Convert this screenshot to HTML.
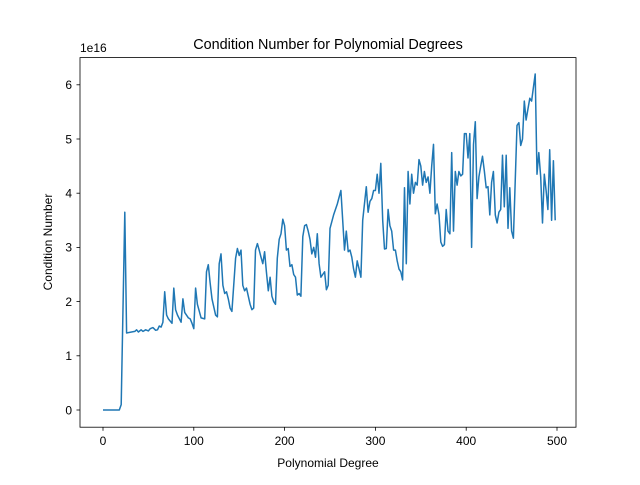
<!DOCTYPE html>
<html><head><meta charset="utf-8"><style>
body{margin:0;background:#fff;}
svg text{font-family:"Liberation Sans","DejaVu Sans",sans-serif;fill:#000;}
</style></head><body>
<svg id="chart" width="640" height="480" viewBox="0 0 640 480" xmlns="http://www.w3.org/2000/svg">
<rect width="640" height="480" fill="#fff"/>
<text x="328" y="49" font-size="14.4" text-anchor="middle">Condition Number for Polynomial Degrees</text>
<text x="328" y="467" font-size="12" text-anchor="middle">Polynomial Degree</text>
<text x="52" y="242" font-size="12" text-anchor="middle" transform="rotate(-90 52 242)">Condition Number</text>
<text x="80" y="52" font-size="12">1e16</text>
<g id="ticks"></g>
<polyline id="line" fill="none" stroke="#1f77b4" stroke-width="1.5" stroke-linejoin="round"/>
<rect x="80" y="57.6" width="496" height="369.6" fill="none" stroke="#000" stroke-width="0.8"/>
</svg>
<script>
const degrees=[0,18,20,24,26,35,37,39,42,44,47,50,52,55,58,60,62,64,66,68,70,72,76,78,80,82,86,88,90,94,96,98,100,102,104,108,112,114,116,118,120,124,126,128,130,132,134,136,138,140,142,146,148,150,152,154,156,158,160,162,164,166,168,170,172,174,176,178,180,182,184,186,188,190,192,194,196,198,200,202,204,206,208,210,212,214,216,218,220,222,224,226,228,230,232,234,236,238,240,242,244,246,248,250,254,258,262,264,266,268,270,272,274,276,278,280,282,284,286,290,292,294,296,298,300,302,304,306,308,310,312,314,316,318,320,322,324,326,328,330,332,334,336,338,340,342,344,346,348,350,352,354,356,358,360,362,364,366,368,370,372,374,376,378,380,382,384,386,388,390,392,394,396,398,400,402,404,406,408,410,412,414,416,418,420,422,424,426,428,430,432,434,436,438,440,442,444,446,448,450,452,456,458,460,462,464,466,468,470,472,476,478,480,482,484,486,488,490,492,494,496,498];
const condValues=[0,0,0.1,3.65,1.42,1.45,1.48,1.44,1.48,1.45,1.48,1.46,1.5,1.52,1.47,1.48,1.55,1.53,1.62,2.18,1.75,1.68,1.6,2.25,1.85,1.75,1.62,2.05,1.8,1.7,1.68,1.6,1.5,2.25,1.95,1.7,1.68,2.55,2.68,2.35,2.05,1.75,1.72,2.7,2.88,2.3,2.15,2.18,2.05,1.88,1.82,2.8,2.98,2.85,2.95,2.3,2.2,2.25,2.1,1.95,1.85,1.88,2.95,3.07,2.95,2.82,2.7,2.92,2.55,2.2,2.45,2.1,2.0,1.95,2.8,3.15,3.25,3.52,3.4,2.95,2.98,2.65,2.68,2.5,2.45,2.12,2.15,2.1,3.2,3.4,3.42,3.3,3.15,2.88,3.0,2.82,3.25,2.7,2.45,2.5,2.55,2.22,2.3,3.35,3.6,3.8,4.05,3.5,2.95,3.3,2.92,2.95,2.82,2.6,2.45,2.75,2.6,2.45,3.5,4.12,3.65,3.85,3.9,4.05,4.05,4.35,4.0,4.55,3.5,2.97,2.98,3.7,3.4,3.3,2.95,2.95,2.75,2.6,2.55,2.4,4.1,2.7,4.4,3.8,4.35,4.0,4.2,4.15,4.62,4.5,4.15,4.4,4.2,4.3,4.0,4.5,4.9,3.62,3.8,3.6,3.1,3.02,3.05,3.7,3.3,3.25,4.75,3.3,4.4,4.15,4.4,4.32,4.35,5.1,5.1,4.65,5.1,3.0,4.9,5.32,3.9,4.3,4.5,4.68,4.4,4.1,4.12,3.6,4.2,4.4,3.6,3.45,3.65,3.7,4.7,3.75,4.7,3.35,4.1,3.3,3.17,5.25,5.3,4.88,5.0,5.7,5.35,5.55,5.75,5.7,6.2,4.35,4.75,4.3,3.45,4.35,4.05,3.7,4.8,3.5,4.6,3.5,4.1,4.6];
const xTicks=[0,100,200,300,400,500];
const yTicks=[0,1,2,3,4,5,6];
const xScale=v=>103+v*0.908;
const yScale=v=>410-v*54.2;
const g=document.getElementById('ticks');
const NS='http://www.w3.org/2000/svg';
xTicks.forEach(t=>{
  const l=document.createElementNS(NS,'line');
  
  
  l.setAttribute('x1',xScale(t));l.setAttribute('x2',xScale(t));l.setAttribute('y1',427.2);l.setAttribute('y2',430.7);l.setAttribute('stroke','#000');l.setAttribute('stroke-width','0.8');g.appendChild(l);
  const tx=document.createElementNS(NS,'text');
  
  
  tx.setAttribute('x',xScale(t));tx.setAttribute('y',445);tx.setAttribute('font-size','12');tx.setAttribute('text-anchor','middle');tx.textContent=t;g.appendChild(tx);
});
yTicks.forEach(t=>{
  const l=document.createElementNS(NS,'line');
  
  
  l.setAttribute('x1',76.5);l.setAttribute('x2',80);l.setAttribute('y1',yScale(t));l.setAttribute('y2',yScale(t));l.setAttribute('stroke','#000');l.setAttribute('stroke-width','0.8');g.appendChild(l);
  const tx=document.createElementNS(NS,'text');
  
  
  tx.setAttribute('x',72);tx.setAttribute('y',yScale(t)+4.3);tx.setAttribute('font-size','12');tx.setAttribute('text-anchor','end');tx.textContent=t;g.appendChild(tx);
});
document.getElementById('line').setAttribute('points',degrees.map((d,i)=>xScale(d).toFixed(1)+','+yScale(condValues[i]).toFixed(1)).join(' '));
</script>
</body></html>
